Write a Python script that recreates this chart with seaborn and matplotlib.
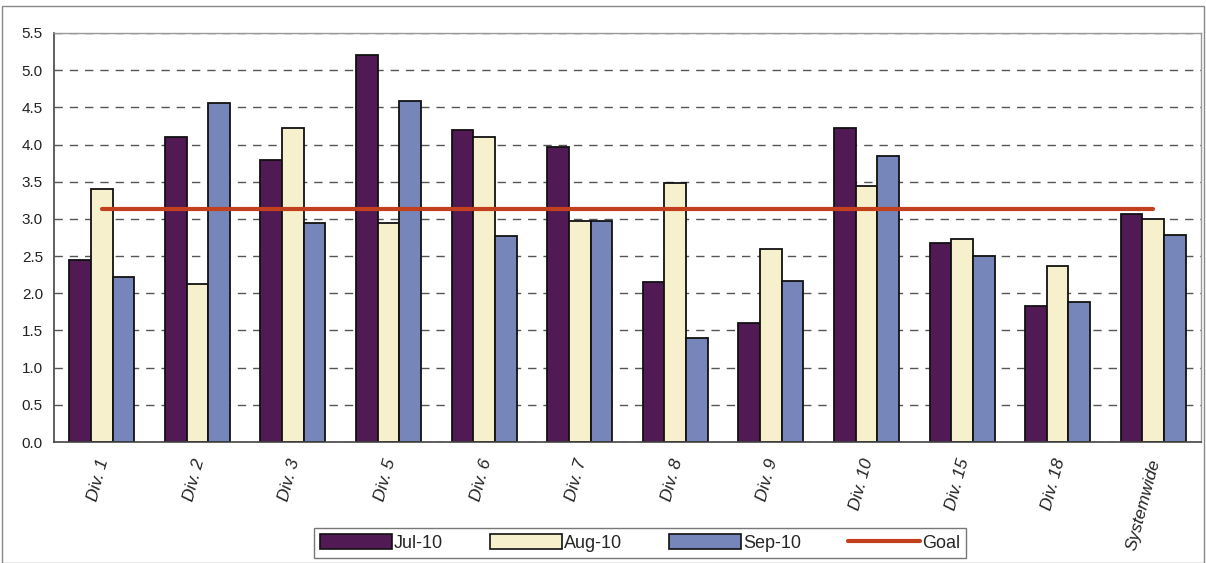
import matplotlib
matplotlib.use("Agg")
import matplotlib.pyplot as plt
import matplotlib.patches as mpatches
import matplotlib.transforms as mtransforms
from matplotlib.lines import Line2D
import seaborn as sns
import pandas as pd

categories = ["Div. 1", "Div. 2", "Div. 3", "Div. 5", "Div. 6", "Div. 7",
              "Div. 8", "Div. 9", "Div. 10", "Div. 15", "Div. 18", "Systemwide"]
months = ["Jul-10", "Aug-10", "Sep-10"]
jul = [2.45, 4.10, 3.79, 5.20, 4.19, 3.97, 2.15, 1.60, 4.22, 2.67, 1.83, 3.06]
aug = [3.40, 2.12, 4.22, 2.95, 4.10, 2.97, 3.48, 2.59, 3.44, 2.73, 2.37, 3.00]
sep = [2.22, 4.56, 2.95, 4.58, 2.77, 2.97, 1.40, 2.16, 3.85, 2.50, 1.88, 2.79]
goal = [3.13] * len(categories)
y_ticks = [0.0, 0.5, 1.0, 1.5, 2.0, 2.5, 3.0, 3.5, 4.0, 4.5, 5.0, 5.5]

colors = {"Jul-10": "#521a55", "Aug-10": "#f7f0cc", "Sep-10": "#7686bb"}
goal_color = "#c3401f"

df = pd.DataFrame({
    "Division": categories * 3,
    "Month": [m for m in months for _ in categories],
    "Value": jul + aug + sep,
})

sns.set_theme(style="white")
plt.rcParams["font.family"] = ["Liberation Sans", "DejaVu Sans"]

fig = plt.figure(figsize=(12.06, 5.63), dpi=100)
ax = fig.add_axes([54 / 1206, 1 - 442 / 563, 1147 / 1206, 409 / 563])

sns.barplot(data=df, x="Division", y="Value", hue="Month", order=categories,
            hue_order=months, palette=colors, width=0.68, edgecolor="#111111",
            linewidth=1.3, saturation=1, ax=ax, legend=False)

sns.lineplot(x=list(range(len(categories))), y=goal, color=goal_color,
             linewidth=3, ax=ax, legend=False, zorder=5)

ax.set_xlim(-0.5, len(categories) - 0.5)
ax.set_ylim(0, 5.5)
ax.set_yticks(y_ticks)
ax.set_yticklabels([f"{v:.1f}" for v in y_ticks], fontsize=11, color="#222222")
ax.set_xticks(range(len(categories)))
ax.set_xticklabels(categories, rotation=75, ha="right", rotation_mode="anchor",
                   fontsize=12.5, style="italic", color="#222222")
ax.set_xticks([i + 0.5 for i in range(-1, len(categories))], minor=True)
ax.tick_params(axis="x", which="major", length=0, pad=11)
ax.tick_params(axis="x", which="minor", length=5, width=1, color="#444444", direction="out")
ax.tick_params(axis="y", length=4, width=1, color="#444444", direction="out", pad=4)
# nudge the slanted category labels a little to the left
shift = mtransforms.ScaledTranslation(-5 / 100, 0, fig.dpi_scale_trans)
for lbl in ax.get_xticklabels():
    lbl.set_transform(lbl.get_transform() + shift)
ax.set_xlabel("")
ax.set_ylabel("")

ax.yaxis.grid(True, linestyle=(0, (6, 5)), color="#555555", linewidth=1)
ax.set_axisbelow(True)
for side in ["left", "bottom"]:
    ax.spines[side].set_color("#444444")
    ax.spines[side].set_linewidth(1.2)
for side in ["top", "right"]:
    ax.spines[side].set_color("#999999")
    ax.spines[side].set_linewidth(1)

handles = [mpatches.Patch(facecolor=colors[m], edgecolor="#111111", linewidth=1.2, label=m)
           for m in months]
handles.append(Line2D([0], [0], color=goal_color, linewidth=3, label="Goal"))
fig.legend(handles=handles, loc="center", bbox_to_anchor=(640 / 1206, 1 - 543 / 563),
           ncol=4, frameon=True, fancybox=False, edgecolor="#555555", fontsize=13,
           handlelength=4.0, handleheight=0.9, handletextpad=0.1, columnspacing=2.6,
           borderpad=0.35)

# chart area outline
fig.add_artist(mpatches.Rectangle((2 / 1206, 0.5 / 563), 1202 / 1206, 1 - 6 / 563,
                                  transform=fig.transFigure, fill=False,
                                  edgecolor="#888888", linewidth=1))

fig.savefig("out.png", dpi=100)
